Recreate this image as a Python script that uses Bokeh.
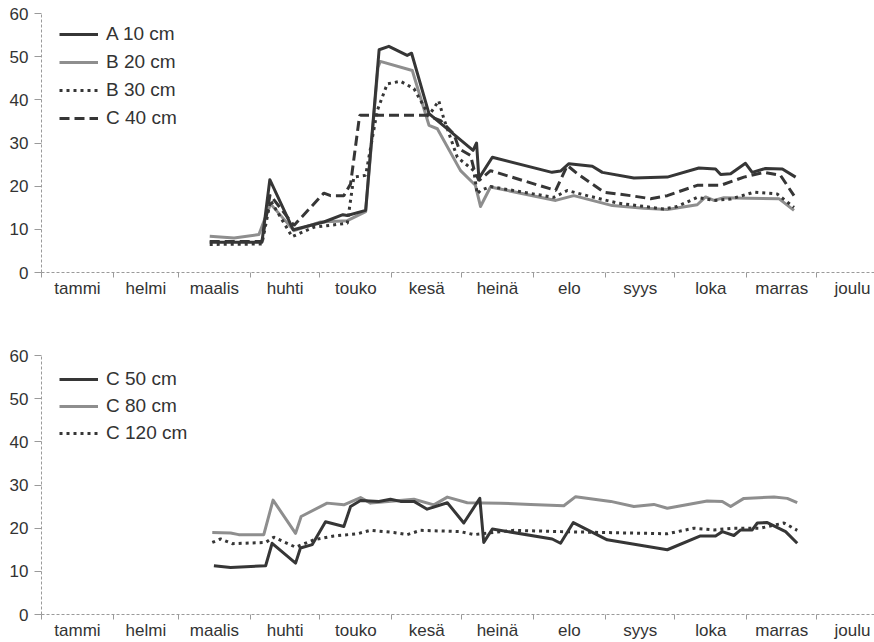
from bokeh.plotting import figure
from bokeh.layouts import column
from bokeh.models import Range1d, FixedTicker, Legend, LegendItem
from bokeh.embed import file_html
from bokeh.resources import INLINE
import numpy as np

# ---- data (day of year, value) ----
months = ["tammi", "helmi", "maalis", "huhti", "touko", "kesä",
          "heinä", "elo", "syys", "loka", "marras", "joulu"]
month_days = [31, 28, 31, 30, 31, 30, 31, 31, 30, 31, 30, 31]

A10_days = [72.5, 95, 98.4, 108.5, 121.7, 129.9, 131.8, 139.7, 145.5, 149.7, 157.6, 159.5,
            167, 186, 187.5, 188.5, 194.3, 220, 223.7, 227.3, 237.4, 241.7, 255.3, 269.7,
            283.3, 290.5, 292.7, 297, 303.4, 306.3, 312, 319.3, 325]
A10_vals = [7.0, 7.0, 21.5, 9.9, 11.7, 13.4, 13.2, 14.4, 51.6, 52.4, 50.3, 50.8,
            36.8, 28.3, 30.0, 21.8, 26.7, 23.2, 23.5, 25.2, 24.6, 23.2, 21.9, 22.1,
            24.2, 24.0, 22.7, 22.9, 25.3, 23.2, 24.1, 24.0, 22.1]

B20_days = [72.5, 83, 93.7, 98.7, 108.8, 120.3, 131.8, 139.7, 145, 146, 159.8, 167,
            170.6, 180.6, 187, 189.2, 193.5, 221.6, 229.4, 246, 259.6, 269.7, 282.6,
            286.2, 289.8, 294.1, 304.2, 317.8, 324.3]
B20_vals = [8.4, 8.0, 8.8, 15.9, 9.7, 11.7, 12.0, 14.1, 47.5, 48.9, 46.8, 34.1,
            33.3, 23.6, 20.2, 15.3, 19.8, 16.7, 17.8, 15.5, 14.9, 14.6, 15.7,
            17.5, 16.7, 17.3, 17.2, 17.1, 14.4]

B30_days = [72.5, 95, 98.7, 108, 117.4, 131.8, 134.6, 139.7, 144.7, 149, 154.7, 160.5,
            167, 171.2, 173.4, 179.2, 186.3, 187.8, 189.2, 193.5, 220.8, 226.6, 235.2,
            248.1, 256.8, 268.2, 274, 282.6, 289.8, 297, 307, 317, 324.3]
B30_vals = [6.5, 6.6, 16.7, 8.3, 10.5, 11.4, 22.1, 22.5, 37.5, 43.7, 44.3, 42.6,
            36.4, 39.8, 35.6, 26.7, 23.6, 18.2, 19.0, 19.9, 17.4, 19.0, 17.8,
            16.1, 15.5, 14.7, 15.3, 17.4, 16.7, 17.0, 18.6, 18.2, 15.1]

C40_days = [72.5, 95, 98.5, 108.8, 121.7, 124.6, 130.3, 133.2, 137.1, 146.1, 166.2, 172,
            177.7, 179.9, 184.9, 186.3, 188.5, 193.5, 221.6, 226.6, 230.9, 242.4, 253.9,
            262.5, 269.7, 282.6, 292.7, 302.7, 311.3, 318.5, 324.3]
C40_vals = [7.2, 7.2, 18.0, 10.9, 18.4, 17.8, 17.8, 20.5, 36.4, 36.4, 36.4, 35.2,
            32.1, 28.7, 27.1, 24.1, 21.3, 23.6, 19.0, 24.8, 22.9, 18.6, 17.8,
            17.1, 17.8, 20.2, 20.2, 22.1, 23.2, 22.5, 17.8]

C50_days = [74.3, 81.5, 96.6, 99.4, 109.5, 111.6, 116.7, 122.4, 130.3, 133.2, 137.5, 145.4,
            150.4, 154.7, 160.5, 166.2, 174.9, 182, 188.9, 190.6, 194.3, 220.1, 223.7,
            229.2, 243.8, 269.7, 284, 290.5, 293.4, 298.4, 301.3, 306.3, 308.5, 312.8,
            320.7, 325.7]
C50_vals = [11.3, 10.9, 11.3, 16.5, 11.9, 15.4, 16.2, 21.5, 20.4, 25.0, 26.4, 26.2,
            26.7, 26.2, 26.2, 24.4, 25.9, 21.2, 26.9, 16.7, 19.8, 17.5, 16.5,
            21.3, 17.3, 15.0, 18.2, 18.2, 19.2, 18.3, 19.6, 19.6, 21.2, 21.3,
            19.2, 16.5]

C80_days = [73.6, 81.5, 85, 95.8, 99.8, 109.5, 111.9, 123.1, 130.3, 137.5, 141.8, 151.9,
            160.5, 169.1, 174.9, 183.5, 197.8, 210.8, 225.1, 230.2, 245.3, 255.3, 263.9,
            269.7, 286.9, 293.4, 297, 302.7, 315.7, 321.4, 325.7]
C80_vals = [19.0, 18.9, 18.5, 18.5, 26.5, 18.8, 22.7, 25.8, 25.4, 27.1, 25.8, 26.3,
            26.7, 25.4, 27.2, 25.9, 25.8, 25.5, 25.2, 27.3, 26.2, 25.0, 25.5,
            24.6, 26.3, 26.2, 25.0, 26.9, 27.2, 26.9, 25.9]

C120_days = [73.6, 77.2, 82.2, 96.6, 100.1, 109.5, 117.4, 126, 136.1, 141.8, 151.9, 157.6,
             163.4, 180.6, 186.3, 203.6, 223.7, 269.7, 281.2, 289.8, 298.4, 309.9, 320, 325.7]
C120_vals = [16.7, 17.5, 16.4, 16.7, 17.9, 15.6, 17.3, 18.2, 18.7, 19.5, 19.0, 18.5,
             19.5, 19.2, 18.5, 19.5, 19.2, 18.7, 20.0, 19.6, 20.0, 20.0, 21.2, 19.5]

y_ticks = [0, 10, 20, 30, 40, 50, 60]

# ---- styling ----
DARK = "#363636"
GRAY = "#8e8e8e"
TXT = "#333333"
AXC = "#9a9a9a"
FONT = "Liberation Sans"

bounds = [0] + list(np.cumsum(month_days))
mids = [(bounds[i] + bounds[i + 1]) / 2 for i in range(12)]


def make_fig(height, top, bottom):
    p = figure(width=874, height=height, output_backend="svg", toolbar_location=None,
               x_range=Range1d(0, 359), y_range=Range1d(0, 60),
               min_border_left=41, min_border_right=0,
               min_border_top=top, min_border_bottom=bottom)
    p.outline_line_color = None
    p.background_fill_color = "white"
    p.border_fill_color = "white"
    p.xgrid.visible = False
    p.ygrid.ticker = FixedTicker(ticks=[60])
    p.ygrid.grid_line_color = AXC
    p.ygrid.grid_line_dash = "3 2"
    p.ygrid.grid_line_width = 1

    xa = p.xaxis[0]
    xa.ticker = FixedTicker(ticks=mids, minor_ticks=bounds)
    xa.major_label_overrides = {m: name for m, name in zip(mids, months)}
    xa.major_tick_out = 0
    xa.major_tick_in = 0
    xa.minor_tick_out = 5
    xa.minor_tick_in = 0
    xa.minor_tick_line_color = AXC
    xa.axis_line_color = AXC
    xa.axis_line_dash = "3 2"
    xa.major_label_standoff = 1
    xa.major_label_text_font = FONT
    xa.major_label_text_font_size = "17px"
    xa.major_label_text_color = TXT

    ya = p.yaxis[0]
    ya.ticker = FixedTicker(ticks=y_ticks)
    ya.major_tick_out = 7
    ya.major_tick_in = 0
    ya.minor_tick_out = 0
    ya.minor_tick_in = 0
    ya.major_tick_line_color = AXC
    ya.axis_line_color = AXC
    ya.axis_line_dash = "3 2"
    ya.major_label_standoff = 6
    ya.major_label_text_font = FONT
    ya.major_label_text_font_size = "17px"
    ya.major_label_text_color = TXT
    return p


def style_legend(p, items, loc, spacing):
    lg = Legend(items=items, location=loc, orientation="vertical")
    lg.background_fill_alpha = 0
    lg.border_line_color = None
    lg.padding = 0
    lg.margin = 0
    lg.spacing = spacing
    lg.glyph_width = 39
    lg.glyph_height = 22
    lg.label_height = 22
    lg.label_standoff = 8
    lg.label_text_font = FONT
    lg.label_text_font_size = "19px"
    lg.label_text_color = TXT
    p.add_layout(lg)


# ---- top panel ----
p1 = make_fig(320, 13, 48)
rB20 = p1.line(B20_days, B20_vals, line_color=GRAY, line_width=3, line_join="round")
rB30 = p1.line(B30_days, B30_vals, line_color=DARK, line_width=3, line_dash="3 4")
rC40 = p1.line(C40_days, C40_vals, line_color=DARK, line_width=3, line_dash="10 5")
rA10 = p1.line(A10_days, A10_vals, line_color=DARK, line_width=3, line_join="round")
style_legend(p1, [LegendItem(label="A 10 cm", renderers=[rA10]),
                  LegendItem(label="B 20 cm", renderers=[rB20]),
                  LegendItem(label="B 30 cm", renderers=[rB30]),
                  LegendItem(label="C 40 cm", renderers=[rC40])],
             (18, 143), 6)

# ---- bottom panel ----
p2 = make_fig(322, 35, 27)
rC80 = p2.line(C80_days, C80_vals, line_color=GRAY, line_width=3, line_join="round")
rC120 = p2.line(C120_days, C120_vals, line_color=DARK, line_width=3, line_dash="3 4")
rC50 = p2.line(C50_days, C50_vals, line_color=DARK, line_width=3, line_join="round")
style_legend(p2, [LegendItem(label="C 50 cm", renderers=[rC50]),
                  LegendItem(label="C 80 cm", renderers=[rC80]),
                  LegendItem(label="C 120 cm", renderers=[rC120])],
             (18, 170), 5)

layout = column(p1, p2, spacing=0)
open("out.html", "w").write(file_html(layout, INLINE))
